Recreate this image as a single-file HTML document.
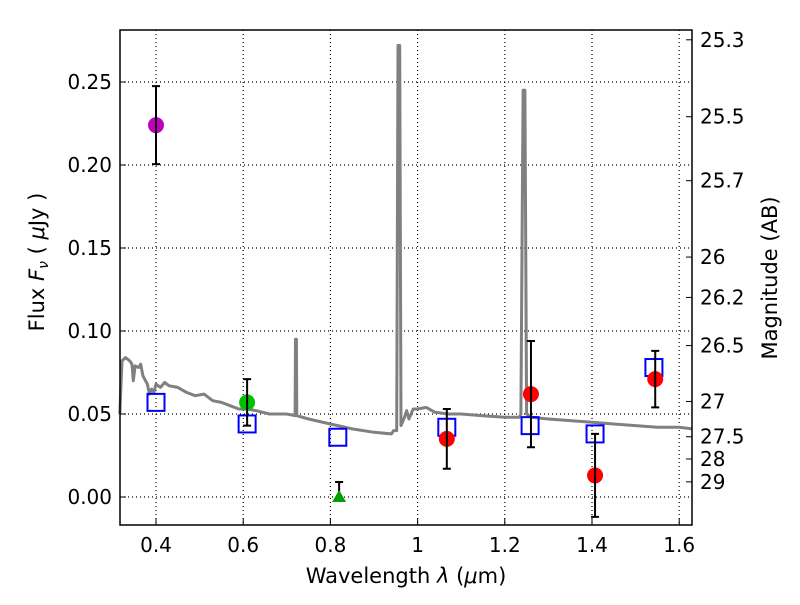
<!DOCTYPE html>
<html><head><meta charset="utf-8"><style>
body{margin:0;background:#fff;font-family:"Liberation Sans","DejaVu Sans",sans-serif}
svg text{font-family:"DejaVu Sans","Liberation Sans",sans-serif}
</style></head><body>
<svg id="chart" width="800" height="600" xmlns="http://www.w3.org/2000/svg">
<rect width="800" height="600" fill="#fff"/>
<g id="grid"></g><g id="spec"></g><g id="marks"></g><g id="axes"></g>
</svg>
<script>
const specLam=[0.317,0.322,0.33,0.34,0.345,0.348,0.352,0.36,0.365,0.37,0.38,0.385,0.39,0.395,0.40,0.41,0.42,0.43,0.45,0.47,0.49,0.51,0.53,0.55,0.57,0.59,0.61,0.63,0.66,0.70,0.719,0.720,0.722,0.723,0.75,0.80,0.85,0.90,0.94,0.945,0.952,0.955,0.959,0.962,0.97,0.975,0.98,0.99,1.0,1.02,1.04,1.07,1.1,1.15,1.2,1.234,1.237,1.242,1.246,1.25,1.26,1.3,1.35,1.4,1.45,1.5,1.55,1.6,1.63];
const specFlux=[0.05,0.082,0.084,0.082,0.080,0.070,0.079,0.078,0.080,0.073,0.068,0.062,0.065,0.063,0.068,0.066,0.069,0.067,0.066,0.063,0.061,0.062,0.058,0.057,0.055,0.053,0.053,0.052,0.050,0.050,0.049,0.095,0.095,0.049,0.047,0.044,0.041,0.039,0.038,0.040,0.040,0.272,0.272,0.043,0.048,0.052,0.047,0.053,0.053,0.054,0.051,0.050,0.050,0.049,0.048,0.048,0.05,0.245,0.245,0.05,0.048,0.047,0.046,0.045,0.044,0.043,0.042,0.042,0.041];
const sqLam=[0.40,0.609,0.817,1.067,1.258,1.407,1.542];
const sqFlux=[0.057,0.044,0.036,0.042,0.043,0.038,0.078];
const ptLam=[0.40,0.609,1.067,1.26,1.407,1.545];
const ptFlux=[0.224,0.057,0.035,0.062,0.013,0.071];
const ptErr=[0.0235,0.014,0.018,0.032,0.025,0.017];
const ptColor=["#bf00bf","#00c000","red","red","red","red"];
const triLam=[0.82], triFlux=[0.0], triErrUp=[0.009];
const xTicks=[0.4,0.6,0.8,1.0,1.2,1.4,1.6];
const xTickLabels=["0.4","0.6","0.8","1","1.2","1.4","1.6"];
const yTicks=[0,0.05,0.10,0.15,0.20,0.25];
const yTickLabels=["0.00","0.05","0.10","0.15","0.20","0.25"];
const magTicks=[25.3,25.5,25.7,26,26.2,26.5,27,27.5,28,29];
const magLabels=["25.3","25.5","25.7","26","26.2","26.5","27","27.5","28","29"];

const L=120,R=692,T=30,B=525;
const X=v=>156+(v-0.4)*436;
const Y=v=>497-v*1660;
const NS="http://www.w3.org/2000/svg";
function mk(tag,attrs,parent){const e=document.createElementNS(NS,tag);for(const k in attrs)e.setAttribute(k,attrs[k]);document.getElementById(parent).appendChild(e);return e;}

xTicks.forEach((t,i)=>{
 const g=mk('line',{x1:X(t),x2:X(t),y1:T,y2:B,stroke:'#000','stroke-dasharray':'1,3','stroke-width':1.2},'grid');
 
 
 const tk=mk('line',{x1:X(t),x2:X(t),y1:B,y2:B-6,stroke:'#000'},'axes');
 
 
 const tx=mk('text',{x:X(t),y:B+27,'text-anchor':'middle','font-size':20},'axes');tx.textContent=xTickLabels[i];
 
 
});
yTicks.forEach((t,i)=>{
 const g=mk('line',{x1:L,x2:R,y1:Y(t),y2:Y(t),stroke:'#000','stroke-dasharray':'1,3','stroke-width':1.2},'grid');
 
 
 const tk=mk('line',{x1:L,x2:L+6,y1:Y(t),y2:Y(t),stroke:'#000'},'axes');
 
 
 const tx=mk('text',{x:L-8,y:Y(t)+7,'text-anchor':'end','font-size':20},'axes');tx.textContent=yTickLabels[i];
 
 
});
magTicks.forEach((m,i)=>{
 const f=Math.pow(10,(23.9-m)/2.5);const y=Y(f);
 const tk=mk('line',{x1:R,x2:R-6,y1:y,y2:y,stroke:'#000'},'axes');
 
 
 const tx=mk('text',{x:R+8,y:y+7,'font-size':20},'axes');tx.textContent=magLabels[i];
 
 
});
let d=specLam.map((l,i)=>(i?'L':'M')+X(l).toFixed(1)+','+Y(specFlux[i]).toFixed(1)).join(' ');
const sp=mk('path',{d:d,fill:'none',stroke:'#808080','stroke-width':3,'stroke-linejoin':'round'},'spec');


sqLam.forEach((l,i)=>{
 const r=mk('rect',{x:X(l)-8.5,y:Y(sqFlux[i])-8.5,width:17,height:17,fill:'none',stroke:'#0000ff','stroke-width':2},'marks');
 
 
});
ptLam.forEach((l,i)=>{
 const c=mk('circle',{cx:X(l),cy:Y(ptFlux[i]),r:8,fill:ptColor[i]},'marks');
 
 
 const x=X(l),y1=Y(ptFlux[i]-ptErr[i]),y2=Y(ptFlux[i]+ptErr[i]);
 const e=mk('path',{d:`M${x},${y1}L${x},${y2}M${x-4},${y1}L${x+4},${y1}M${x-4},${y2}L${x+4},${y2}`,stroke:'#000','stroke-width':2,fill:'none'},'marks');
 
 
});
triLam.forEach((l,i)=>{
 const x=X(l),y=Y(triFlux[i]),y2=Y(triFlux[i]+triErrUp[i]);
 const e=mk('path',{d:`M${x},${y}L${x},${y2}M${x-4},${y2}L${x+4},${y2}`,stroke:'#000','stroke-width':2,fill:'none'},'marks');
 
 
 const t=mk('path',{d:`M${x},${y-7}L${x+7},${y+5}L${x-7},${y+5}Z`,fill:'#00a000'},'marks');
 
 
});
const fr=mk('rect',{x:L,y:T,width:R-L,height:B-T,fill:'none',stroke:'#000','stroke-width':1.5},'axes');


const xl=mk('text',{x:406,y:583,'text-anchor':'middle','font-size':21},'axes');
xl.innerHTML='Wavelength  <tspan font-style="italic">λ</tspan> (<tspan font-style="italic">μ</tspan>m)';


const yl=mk('text',{x:0,y:0,'text-anchor':'middle','font-size':21,transform:'translate(44,262) rotate(-90)'},'axes');
yl.innerHTML='Flux  <tspan font-style="italic">F</tspan><tspan font-style="italic" font-size="14" dy="4">ν</tspan><tspan dy="-4">  ( </tspan><tspan font-style="italic">μ</tspan>Jy )';


const rl=mk('text',{x:0,y:0,'text-anchor':'middle','font-size':21,transform:'translate(777,278) rotate(-90)'},'axes');
rl.textContent='Magnitude (AB)';


</script>
</body></html>
